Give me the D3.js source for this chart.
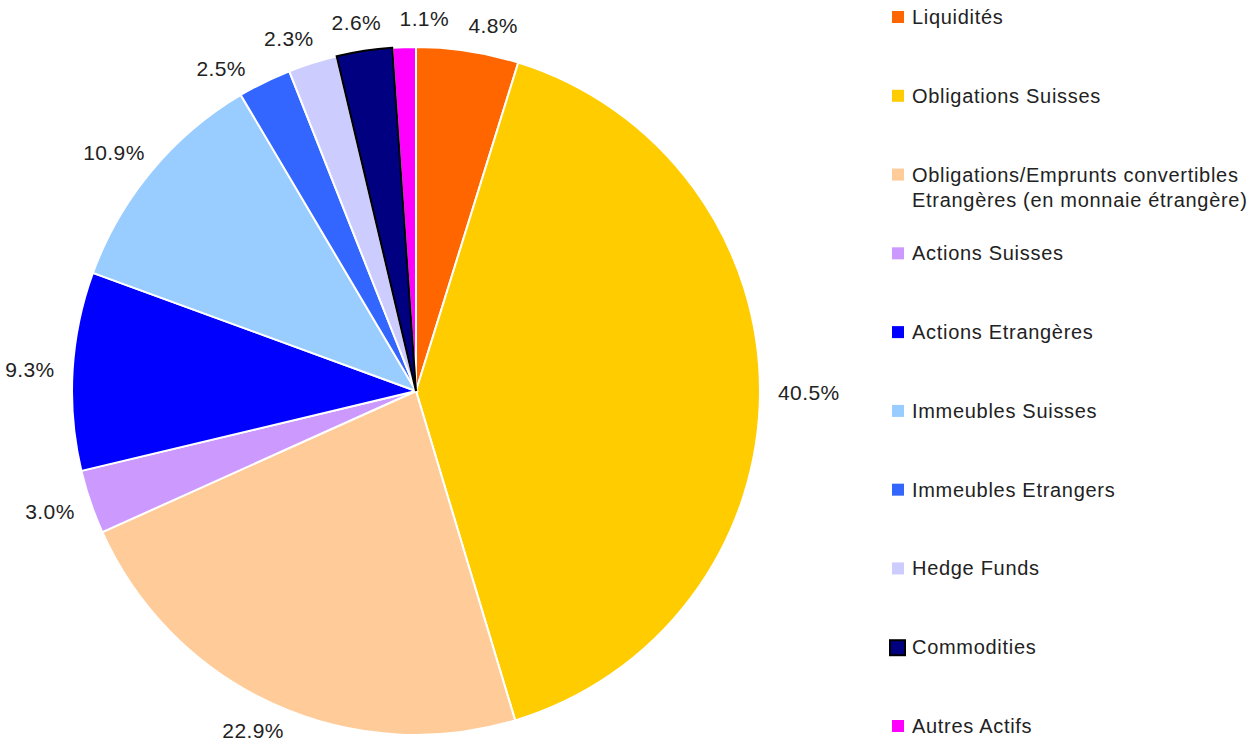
<!DOCTYPE html>
<html>
<head>
<meta charset="utf-8">
<script src="https://cdn.jsdelivr.net/npm/d3@7"></script>
<style>
  html, body { margin: 0; padding: 0; background: #fff; }
  svg text { font-family: "Liberation Sans", Arial, sans-serif; fill: #222; }
</style>
</head>
<body>
<svg id="chart" width="1257" height="749"></svg>
<script>
// ---- Data ----
const categories = [
  "Liquidités",
  "Obligations Suisses",
  "Obligations/Emprunts convertibles\nEtrangères (en monnaie étrangère)",
  "Actions Suisses",
  "Actions Etrangères",
  "Immeubles Suisses",
  "Immeubles Etrangers",
  "Hedge Funds",
  "Commodities",
  "Autres Actifs"
];
const shares = [4.8, 40.5, 22.9, 3.0, 9.3, 10.9, 2.5, 2.3, 2.6, 1.1];
const colors = ["#FF6600", "#FFCC00", "#FFCC99", "#CC99FF", "#0000FF",
                "#99CCFF", "#3366FF", "#CCCCFF", "#000080", "#FF00FF"];
const outlined = ["Commodities"];

const svg = d3.select("#chart");
const cx = 416, cy = 391, R = 344;

const data = categories.map((c, i) => ({ name: c, value: shares[i], color: colors[i] }));

const pie = d3.pie().value(d => d.value).sort(null);
const arc = d3.arc().innerRadius(0).outerRadius(R);
const arcs = pie(data);

const g = svg.append("g").attr("transform", `translate(${cx},${cy})`);

// ---- Slices ----
g.selectAll("path.slice")
  .data(arcs)
  .join("path")
  .attr("class", "slice")
  .attr("d", arc)
  .attr("fill", d => d.data.color)
  .attr("stroke", "#fff")
  .attr("stroke-width", 2);

// outlined slice drawn on top
g.selectAll("path.outline")
  .data(arcs.filter(d => outlined.includes(d.data.name)))
  .join("path")
  .attr("class", "outline")
  .attr("d", arc)
  .attr("fill", d => d.data.color)
  .attr("stroke", "#000")
  .attr("stroke-width", 2);

// ---- Percent labels (outside end, nudged apart when crowded) ----
const labelR = R + 18;
const labelH = 22;
const gap = 9;

const pct = g.selectAll("text.pct")
  .data(arcs)
  .join("text")
  .attr("class", "pct")
  .attr("font-size", 21)
  .attr("letter-spacing", 0.4)
  .attr("text-anchor", "middle")
  .attr("dominant-baseline", "central")
  .text(d => d.data.value.toFixed(1) + "%");

const labels = [];
pct.each(function(d) {
  labels.push({ a: (d.startAngle + d.endAngle) / 2, w: this.getComputedTextLength() });
});

function centre(l) {
  return [
    labelR * Math.sin(l.a) + (l.w / 2) * Math.sin(l.a),
    -labelR * Math.cos(l.a) - (labelH / 2) * Math.cos(l.a)
  ];
}
function overlaps(p, q) {
  const [px, py] = centre(p), [qx, qy] = centre(q);
  return Math.abs(px - qx) < (p.w + q.w) / 2 + 2 * gap &&
         Math.abs(py - qy) < labelH + gap;
}
for (let it = 0; it < 400; it++) {
  let moved = false;
  for (let i = 0; i < labels.length; i++) {
    const j = (i + 1) % labels.length;
    if (overlaps(labels[i], labels[j])) {
      labels[i].a -= 0.002;
      labels[j].a += 0.002;
      moved = true;
    }
  }
  if (!moved) break;
}

pct.each(function(d, i) {
  const [x, y] = centre(labels[i]);
  d3.select(this).attr("x", x).attr("y", y);
});

// ---- Legend ----
const ly = d3.scalePoint()
  .domain(categories)
  .range([17, 726]);

const legend = svg.append("g").attr("transform", "translate(892,0)");
const item = legend.selectAll("g")
  .data(data)
  .join("g")
  .attr("transform", d => `translate(0,${ly(d.name)})`);

item.append("rect")
  .attr("x", d => outlined.includes(d.name) ? -2 : 0)
  .attr("y", d => outlined.includes(d.name) ? -7 : -6)
  .attr("width", d => outlined.includes(d.name) ? 15 : 12)
  .attr("height", d => outlined.includes(d.name) ? 15 : 12)
  .attr("fill", d => d.color)
  .attr("stroke", d => outlined.includes(d.name) ? "#000" : "none")
  .attr("stroke-width", 2);

item.append("text")
  .attr("x", 20)
  .attr("font-size", 20)
  .attr("letter-spacing", 0.7)
  .attr("dominant-baseline", "central")
  .selectAll("tspan")
  .data(d => d.name.split("\n"))
  .join("tspan")
  .attr("x", 20)
  .attr("dy", (t, i) => i === 0 ? 0 : 25)
  .text(t => t);
</script>
</body>
</html>
